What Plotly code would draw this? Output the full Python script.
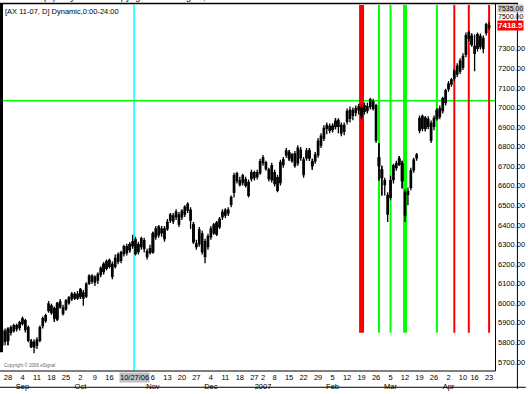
import plotly.graph_objects as go

# ---------------- data ----------------
bar_index = list(range(-2, 167))  # trading-day index, 0 = Aug 28 2006

open_ = [5786,5856,5811,5851,5861,5886,5876,5896,5911,5876,5801,5776,5786,5811,5886,5911,5962,5987,5972,5921,
         5982,5977,5972,6002,6022,6047,6027,6068,6027,6037,6103,6138,6108,6118,6148,6163,6178,6219,6199,6189,
         6214,6219,6254,6289,6274,6294,6325,6264,6289,6320,6264,6259,6264,6340,6390,6360,6380,6380,6425,6446,
         6441,6451,6441,6456,6476,6476,6400,6304,6304,6355,6239,6289,6340,6360,6355,6390,6441,6451,6476,6506,
         6567,6662,6627,6617,6632,6617,6637,6667,6647,6667,6718,6718,6682,6632,6667,6642,6617,6708,6758,6768,
         6728,6763,6718,6783,6733,6743,6778,6703,6728,6758,6808,6844,6894,6904,6904,6904,6934,6909,6879,6929,
         6945,6985,6975,6990,7000,6980,7005,7005,6995,7010,6703,6682,6627,6551,6541,6632,6693,6738,6713,6567,
         6556,6592,6682,6743,6884,6955,6894,6940,6919,6904,6945,6955,6985,7025,7096,7121,7151,7171,7186,7207,
         7272,7353,7363,7312,7302,7363,7302,7383,7408]
high = [5871,5871,5876,5886,5896,5896,5911,5932,5921,5886,5816,5816,5826,5886,5932,5947,6012,5997,5982,6007,
        6022,5992,6022,6037,6058,6058,6063,6078,6068,6108,6148,6148,6143,6158,6189,6209,6224,6229,6214,6249,
        6259,6269,6299,6304,6310,6350,6340,6315,6340,6335,6279,6299,6365,6395,6400,6395,6395,6430,6461,6461,
        6481,6466,6481,6501,6516,6491,6415,6325,6390,6370,6330,6355,6395,6410,6420,6441,6481,6486,6491,6551,
        6667,6672,6647,6662,6647,6632,6682,6677,6682,6738,6758,6728,6693,6718,6682,6657,6733,6748,6793,6783,
        6768,6778,6808,6798,6748,6793,6793,6738,6773,6844,6869,6909,6924,6919,6919,6945,6945,6924,6924,6995,
        7005,7000,7010,7020,7015,7025,7025,7050,7045,7020,6819,6703,6642,6567,6652,6713,6728,6753,6728,6582,
        6592,6693,6743,6768,6960,6965,6955,6955,6934,6960,6995,7010,7055,7096,7136,7151,7197,7227,7252,7277,
        7383,7393,7378,7373,7383,7378,7368,7433,7438]
low = [5751,5786,5786,5836,5851,5856,5861,5886,5851,5801,5771,5745,5766,5801,5871,5901,5952,5942,5906,5911,
       5972,5937,5962,5992,6012,6017,6017,6022,5987,6027,6093,6098,6088,6098,6133,6148,6168,6178,6123,6178,
       6199,6204,6239,6244,6259,6279,6244,6249,6274,6259,6224,6249,6254,6325,6335,6340,6315,6370,6410,6405,
       6425,6390,6425,6441,6461,6380,6304,6274,6289,6249,6204,6274,6325,6350,6345,6380,6425,6436,6446,6491,
       6541,6612,6597,6602,6592,6541,6622,6627,6632,6657,6703,6677,6622,6617,6597,6567,6602,6693,6743,6728,
       6718,6693,6703,6728,6642,6728,6728,6682,6713,6743,6793,6829,6864,6869,6874,6889,6869,6854,6859,6914,
       6924,6935,6955,6965,6940,6965,6970,6990,6985,6819,6627,6551,6551,6415,6526,6612,6677,6703,6587,6415,
       6501,6577,6667,6728,6869,6879,6879,6889,6819,6884,6935,6940,6970,7010,7081,7106,7136,7156,7171,7192,
       7257,7338,7312,7186,7287,7297,7277,7368,7398]
close = [5861,5806,5866,5876,5886,5871,5901,5921,5866,5811,5781,5801,5811,5876,5921,5937,5997,5952,5926,5997,
         6007,5947,6012,6027,6047,6027,6047,6037,6053,6098,6138,6113,6133,6148,6178,6199,6214,6189,6138,6229,
         6249,6259,6289,6259,6299,6315,6254,6299,6330,6279,6239,6279,6355,6380,6350,6380,6330,6415,6451,6420,
         6466,6405,6471,6491,6506,6425,6315,6289,6375,6264,6315,6340,6380,6400,6410,6430,6466,6476,6461,6541,
         6652,6627,6607,6652,6602,6551,6667,6642,6667,6723,6743,6688,6637,6703,6612,6577,6718,6733,6778,6743,
         6758,6703,6793,6743,6657,6778,6743,6723,6758,6829,6854,6894,6909,6884,6889,6929,6904,6869,6909,6980,
         6985,6960,6995,7005,6955,7010,6985,7040,7030,6834,6743,6642,6607,6456,6627,6703,6713,6713,6627,6451,
         6572,6677,6733,6758,6945,6894,6945,6904,6834,6945,6985,6995,7045,7086,7121,7141,7186,7212,7237,7262,
         7368,7383,7323,7277,7373,7312,7353,7423,7418.5]

green_bars = [0, 17, 33, 42, 50, 72, 105, 113, 128, 144, 148]
red_bars = [8, 16, 25, 64, 97, 104, 112, 129, 135, 136, 160]

tick_days = [0, 5, 10, 15, 20, 25, 30, 35, 50, 55, 60, 65, 70, 75, 80, 85, 88, 92, 97, 102,
             107, 112, 117, 122, 127, 132, 137, 142, 147, 152, 157, 161, 166]
tick_text = ["28", "4<br>Sep", "11", "18", "25", "2<br>Oct", "9", "16", "6<br>Nov", "13", "20", "27",
             "4<br>Dec", "11", "18", "27", "2<br>2007", "8", "15", "22", "29", "5<br>Feb", "12", "19", "26",
             "5<br>Mar", "12", "19", "26", "2<br>Apr", "10", "16", "23"]

price_ticks = [5700, 5800, 5900, 6000, 6100, 6200, 6300, 6400, 6500, 6600, 6700, 6800, 6900, 7000,
               7100, 7200, 7300]
price_text = ["%.2f" % v for v in price_ticks]
top_tick_text = "7500.00"   # drawn just under the high-price box, as in the reference

hline_level = 7035
cursor_day = 43.5
cursor_label = "10/27/06"
vline_days = [122, 128, 132, 137, 148, 154, 159, 166]
vline_colors = ["#ff0000", "#00ff00", "#00ff00", "#00ff00", "#00ff00", "#ff0000", "#ff0000", "#ff0000"]
vline_widths = [5, 2, 2, 4, 2, 2, 2, 2]
vline_bottom = 5850
last_price = 7418.5
top_price_label = "7535.00"

# ---------------- layout geometry ----------------
W, H = 528, 394
L, R, T, B = 3, 497, 5, 376
y_range = [5654, 7524]
x_range = [-1.72, 168.04]


def xp(px):
    return (px - L) / (R - L)


def yp(py):
    return (B - py) / (B - T)


FONT = "Liberation Sans Narrow, Arial Narrow, Liberation Sans, Arial, sans-serif"

fig = go.Figure()


def candles(idx, inc_fill, dec_fill):
    pos = [bar_index.index(i) for i in idx]
    return go.Candlestick(
        x=[bar_index[p] for p in pos],
        open=[open_[p] for p in pos], high=[high[p] for p in pos],
        low=[low[p] for p in pos], close=[close[p] for p in pos],
        increasing=dict(fillcolor=inc_fill, line=dict(color="black", width=1.3)),
        decreasing=dict(fillcolor=dec_fill, line=dict(color="black", width=1.3)),
        whiskerwidth=0, showlegend=False, hoverinfo="skip")


fig.add_trace(candles(bar_index, "black", "black"))
fig.add_trace(candles(green_bars, "#1f9a2a", "#1f9a2a"))
fig.add_trace(candles(red_bars, "#ee1c24", "#ee1c24"))

shapes = []
# event lines
for d, c, w in zip(vline_days, vline_colors, vline_widths):
    shapes.append(dict(type="line", xref="x", yref="y", x0=d, x1=d, y0=vline_bottom, y1=y_range[1],
                       line=dict(color=c, width=w), layer="below"))
# cursor line
shapes.append(dict(type="line", xref="x", yref="paper", x0=cursor_day, x1=cursor_day, y0=0, y1=1,
                   line=dict(color="#00ffff", width=1.5), layer="below"))
# horizontal level
shapes.append(dict(type="line", xref="paper", yref="y", x0=0, x1=1, y0=hline_level, y1=hline_level,
                   line=dict(color="#00ff00", width=1.5), layer="below"))
# frame
blk = dict(color="black", width=1.5)
shapes += [
    dict(type="line", xref="paper", yref="paper", x0=xp(0), x1=xp(520), y0=yp(3.5), y1=yp(3.5), line=blk),
    dict(type="rect", xref="paper", yref="paper", x0=xp(0), x1=xp(3), y0=yp(357), y1=yp(3.5),
         fillcolor="black", line=dict(width=0)),
    dict(type="line", xref="paper", yref="paper", x0=xp(497.5), x1=xp(497.5), y0=yp(376), y1=yp(3.5),
         line=dict(color="black", width=1)),
    dict(type="line", xref="paper", yref="paper", x0=xp(0), x1=xp(497.5), y0=yp(376), y1=yp(376),
         line=dict(color="black", width=1)),
    dict(type="line", xref="paper", yref="paper", x0=xp(519.5), x1=xp(519.5), y0=yp(394), y1=yp(3.5),
         line=dict(color="black", width=1)),
    dict(type="line", xref="paper", yref="paper", x0=xp(0), x1=xp(528), y0=yp(392.5), y1=yp(392.5),
         line=dict(color="black", width=1)),
]

annotations = [
    dict(text="AX 11-07 (D) - Dynamic -  Copyright 2006 eSignal, Inc.", xref="paper", yref="paper",
         x=xp(2), y=yp(3.5), xanchor="left", yanchor="bottom", showarrow=False,
         font=dict(family=FONT, size=9, color="black")),
    dict(text="[AX 11-07, D] Dynamic,0:00-24:00", xref="paper", yref="paper",
         x=xp(3), y=yp(4.5), xanchor="left", yanchor="top", showarrow=False,
         font=dict(family=FONT, size=7.5, color="black")),
    dict(text="Copyright \u00a9 2006 eSignal", xref="paper", yref="paper",
         x=xp(2), y=yp(370), xanchor="left", yanchor="middle", showarrow=False,
         font=dict(family=FONT, size=4.5, color="#666666")),
    dict(text="<b>%.1f</b>" % last_price, xref="paper", yref="y", x=xp(499), y=last_price,
         xanchor="left", yanchor="middle", showarrow=False, bgcolor="#ff0000", borderpad=0,
         font=dict(family=FONT, size=8, color="white")),
    dict(text=top_price_label, xref="paper", yref="paper", x=xp(499), y=yp(4),
         xanchor="left", yanchor="top", showarrow=False, bgcolor="#c8c8c8", borderpad=0,
         font=dict(family=FONT, size=7, color="black")),
    dict(text=top_tick_text, xref="paper", yref="paper", x=xp(499.5), y=yp(12),
         xanchor="left", yanchor="top", showarrow=False, borderpad=0,
         font=dict(family=FONT, size=7, color="black")),
    dict(text=cursor_label, xref="x", yref="paper", x=cursor_day, y=yp(377),
         xanchor="center", yanchor="top", showarrow=False, bgcolor="#c0c0c0", borderpad=0,
         font=dict(family=FONT, size=7.5, color="black")),
]

fig.update_layout(
    width=W, height=H,
    margin=dict(l=L, r=W - R, t=T, b=H - B, pad=0),
    paper_bgcolor="white", plot_bgcolor="white",
    shapes=shapes, annotations=annotations,
    showlegend=False,
    xaxis=dict(range=x_range, rangeslider=dict(visible=False), showgrid=False, zeroline=False,
               showline=False, ticks="", tickvals=tick_days, ticktext=tick_text, tickangle=0,
               tickfont=dict(family=FONT, size=7.5, color="black")),
    yaxis=dict(range=y_range, side="right", showgrid=False, zeroline=False, showline=False,
               ticks="", tickvals=price_ticks, ticktext=price_text, ticklabelstandoff=2,
               tickfont=dict(family=FONT, size=7.5, color="black")),
)

fig.write_html("out.html")
